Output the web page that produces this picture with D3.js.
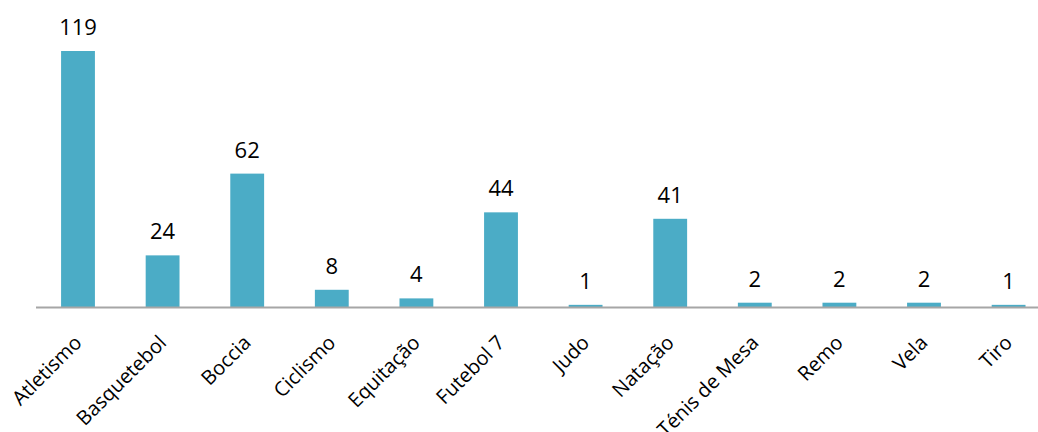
<!DOCTYPE html>
<html>
<head>
<meta charset="utf-8">
<script src="https://cdn.jsdelivr.net/npm/d3@7"></script>
<style>
  html, body { margin: 0; padding: 0; background: #fff; }
  svg { display: block; }
  text { font-family: "Open Sans", "DejaVu Sans", sans-serif; fill: #000; }
</style>
</head>
<body>
<svg id="chart" width="1038" height="432"></svg>
<script>
// Athletes per sport
const categories = ["Atletismo", "Basquetebol", "Boccia", "Ciclismo", "Equitação", "Futebol 7",
                    "Judo", "Natação", "Ténis de Mesa", "Remo", "Vela", "Tiro"];
const values = [119, 24, 62, 8, 4, 44, 1, 41, 2, 2, 2, 1];

const svg = d3.select("#chart");
const baseY = 307;

const x = d3.scaleBand()
  .domain(categories)
  .range([35.7, 1050.9])
  .paddingInner(0.6)
  .paddingOuter(0.3);

const y = d3.scaleLinear()
  .domain([0, 119])
  .range([baseY, 51]);

// Bars
svg.append("g").selectAll("rect")
  .data(values)
  .join("rect")
  .attr("x", (d, i) => x(categories[i]))
  .attr("width", x.bandwidth())
  .attr("y", d => y(d))
  .attr("height", d => baseY - y(d))
  .attr("fill", "#4BACC6");

// Value labels
svg.append("g").selectAll("text")
  .data(values)
  .join("text")
  .attr("x", (d, i) => x(categories[i]) + x.bandwidth() / 2)
  .attr("y", d => y(d) - 16)
  .attr("text-anchor", "middle")
  .style("font-size", "22px")
  .text(d => d);

// Category axis
const axis = svg.append("g")
  .attr("transform", `translate(0,${baseY})`)
  .call(d3.axisBottom(x).tickSize(0).tickPadding(0));
axis.select(".domain")
  .attr("d", "M36,0.5H1038")
  .attr("stroke", "#A6A6A6")
  .attr("stroke-width", 2);
axis.selectAll(".tick text")
  .attr("text-anchor", "end")
  .attr("transform", "translate(0,32) rotate(-45)")
  .attr("dy", "0.35em")
  .attr("y", 0)
  .style("font-size", "20px")
  .style("font-family", "'Open Sans', 'DejaVu Sans', sans-serif")
  .attr("fill", "#000");
</script>
</body>
</html>
